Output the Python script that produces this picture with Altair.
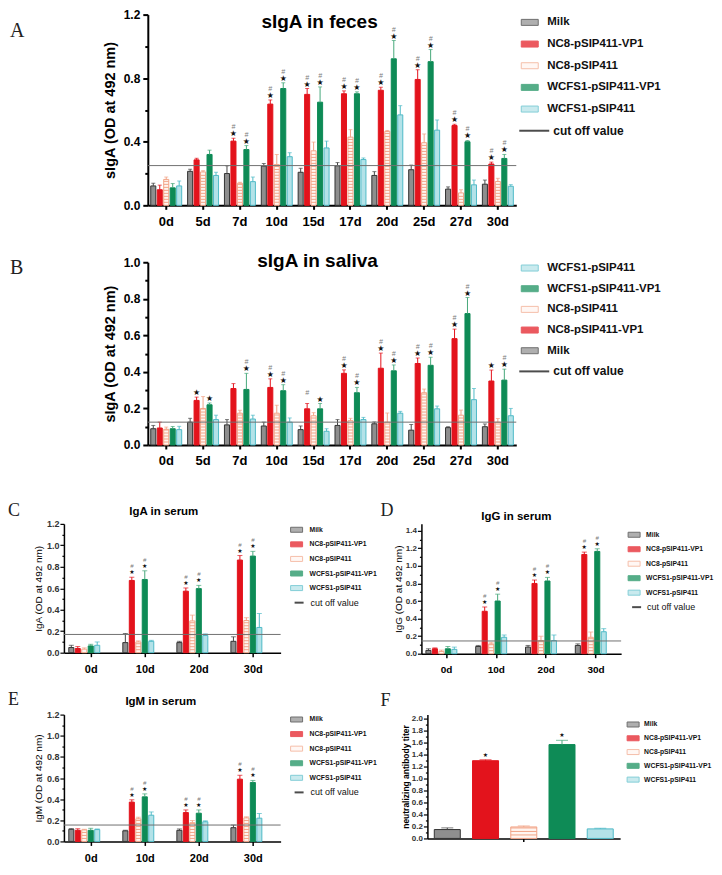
import altair as alt
import numpy as np
import pandas as pd

SERIES = ["Milk", "NC8-pSIP411-VP1", "NC8-pSIP411", "WCFS1-pSIP411-VP1", "WCFS1-pSIP411"]
CUT = "cut off value"
FILL_RANGE = ["#8e8e8e", "#e3131c", "#fff5f0", "#0e8b56", "#b3e2e8"]
STROKE_RANGE = ["#333333", "#e3131c", "#f2a487", "#0e8b56", "#4fbac7"]
ERR_RANGE = ["#444444", "#e3131c", "#f2a487", "#46a87a", "#4fbac7"]
STRIPE = "#f2a487"

# ---------------- Panel A: sIgA in feces ----------------
A_DAYS = ["0d", "5d", "7d", "10d", "15d", "17d", "20d", "25d", "27d", "30d"]
A_MILK = [0.122, 0.214, 0.200, 0.247, 0.208, 0.249, 0.188, 0.224, 0.102, 0.133]
A_MILK_E = [0.017, 0.013, 0.049, 0.016, 0.025, 0.020, 0.024, 0.029, 0.014, 0.026]
A_NC8VP1 = [0.098, 0.286, 0.404, 0.637, 0.698, 0.702, 0.724, 0.792, 0.502, 0.260]
A_NC8VP1_E = [0.029, 0.010, 0.018, 0.026, 0.037, 0.018, 0.019, 0.061, 0.008, 0.012]
A_NC8 = [0.163, 0.210, 0.139, 0.257, 0.343, 0.429, 0.465, 0.394, 0.078, 0.150]
A_NC8_E = [0.015, 0.008, 0.006, 0.063, 0.055, 0.047, 0.006, 0.055, 0.020, 0.020]
A_WCVP1 = [0.110, 0.320, 0.351, 0.735, 0.649, 0.702, 0.922, 0.904, 0.400, 0.295]
A_WCVP1_E = [0.027, 0.027, 0.025, 0.036, 0.096, 0.012, 0.115, 0.076, 0.008, 0.025]
A_WC = [0.122, 0.188, 0.149, 0.306, 0.361, 0.288, 0.569, 0.473, 0.129, 0.120]
A_WC_E = [0.031, 0.020, 0.029, 0.025, 0.043, 0.010, 0.058, 0.064, 0.030, 0.010]
A_SIG = ["", "", "#*", "#*", "#*", "#*", "#*", "#*", "#*", "#*"]
A_CUTOFF = 0.25

# ---------------- Panel B: sIgA in saliva ----------------
B_DAYS = A_DAYS
B_ORDER = ["WCFS1-pSIP411", "WCFS1-pSIP411-VP1", "NC8-pSIP411", "NC8-pSIP411-VP1", "Milk"]
B_WC = [0.084, 0.139, 0.142, 0.125, 0.075, 0.139, 0.174, 0.198, 0.248, 0.160]
B_WC_E = [0.018, 0.024, 0.021, 0.023, 0.014, 0.012, 0.010, 0.015, 0.061, 0.040]
B_WCVP1 = [0.089, 0.220, 0.304, 0.297, 0.198, 0.286, 0.406, 0.436, 0.719, 0.355]
B_WCVP1_E = [0.012, 0.010, 0.088, 0.033, 0.029, 0.029, 0.032, 0.044, 0.088, 0.060]
B_NC8 = [0.086, 0.200, 0.174, 0.174, 0.160, 0.133, 0.125, 0.286, 0.163, 0.125]
B_NC8_E = [0.012, 0.065, 0.016, 0.044, 0.017, 0.013, 0.050, 0.020, 0.028, 0.020]
B_NC8VP1 = [0.093, 0.244, 0.309, 0.315, 0.198, 0.392, 0.420, 0.446, 0.582, 0.350]
B_NC8VP1_E = [0.032, 0.018, 0.027, 0.047, 0.029, 0.019, 0.083, 0.030, 0.052, 0.060]
B_MILK = [0.089, 0.125, 0.110, 0.104, 0.084, 0.107, 0.116, 0.081, 0.095, 0.100]
B_MILK_E = [0.018, 0.021, 0.029, 0.021, 0.020, 0.032, 0.010, 0.031, 0.005, 0.015]
B_SIG_WCVP1 = ["", "*", "#*", "#*", "*", "#*", "#*", "#*", "#*", "#*"]
B_SIG_NC8VP1 = ["", "*", "", "#*", "#", "#*", "#*", "#*", "#*", "*"]
B_CUTOFF = 0.125

# ---------------- Panels C, D, E: serum ----------------
S_DAYS = ["0d", "10d", "20d", "30d"]
C_MILK = [0.048, 0.094, 0.094, 0.106]
C_MILK_E = [0.021, 0.085, 0.012, 0.042]
C_NC8VP1 = [0.039, 0.673, 0.573, 0.863]
C_NC8VP1_E = [0.018, 0.030, 0.030, 0.042]
C_NC8 = [0.033, 0.100, 0.296, 0.300]
C_NC8_E = [0.012, 0.010, 0.054, 0.026]
C_WCVP1 = [0.063, 0.682, 0.597, 0.900]
C_WCVP1_E = [0.015, 0.081, 0.030, 0.044]
C_WC = [0.069, 0.106, 0.160, 0.235]
C_WC_E = [0.031, 0.009, 0.015, 0.130]
C_CUTOFF = 0.17

D_MILK = [0.037, 0.082, 0.075, 0.094]
D_MILK_E = [0.019, 0.012, 0.019, 0.018]
D_NC8VP1 = [0.056, 0.483, 0.800, 1.130]
D_NC8VP1_E = [0.010, 0.049, 0.039, 0.027]
D_NC8 = [0.026, 0.112, 0.150, 0.187]
D_NC8_E = [0.015, 0.019, 0.049, 0.060]
D_WCVP1 = [0.056, 0.600, 0.828, 1.165]
D_WCVP1_E = [0.026, 0.078, 0.041, 0.030]
D_WC = [0.049, 0.187, 0.150, 0.250]
D_WC_E = [0.026, 0.026, 0.063, 0.035]
D_CUTOFF = 0.145

E_MILK = [0.115, 0.100, 0.105, 0.130]
E_MILK_E = [0.006, 0.006, 0.013, 0.025]
E_NC8VP1 = [0.105, 0.372, 0.273, 0.589]
E_NC8VP1_E = [0.015, 0.022, 0.025, 0.037]
E_NC8 = [0.109, 0.214, 0.177, 0.223]
E_NC8_E = [0.006, 0.015, 0.021, 0.010]
E_WCVP1 = [0.105, 0.422, 0.267, 0.558]
E_WCVP1_E = [0.019, 0.028, 0.031, 0.019]
E_WC = [0.112, 0.248, 0.186, 0.220]
E_WC_E = [0.006, 0.031, 0.009, 0.044]
E_CUTOFF = 0.155
S_SIG = ["", "#*", "#*", "#*"]

# ---------------- Panel F: neutralizing antibody ----------------
F_DAYS = ["all"]
F_VALUES = [0.148, 1.297, 0.192, 1.566, 0.159]
F_ERRORS = [0.028, 0.016, 0.017, 0.071, 0.011]
F_SIG = ["", "*", "", "*", ""]


def build_panel(days, order, means, errs, sig, cutoff, width, height, ymax, ytop,
                tick_step, label_every, ytitle, title, title_xy, letter, letter_xy, st, flat=False):
    rows = []
    for s in order:
        for i, d in enumerate(days):
            m = means[s][i]
            e = errs[s][i]
            mk = sig.get(s, [""] * len(days))[i]
            rows.append(dict(day=d, series=s, value=m, upper=m + e,
                             star="\u2605" if "*" in mk else "",
                             hash="#" if "#" in mk else ""))
    df = pd.DataFrame(rows)
    ppu = height / ymax
    step = st["stripe_px"] / ppu
    th = 1.0 / ppu
    srows = []
    for r in rows:
        if r["series"] == "NC8-pSIP411":
            for yv in np.arange(step, r["value"] - 0.6 * th, step):
                srows.append(dict(day=r["day"], series=r["series"], lo=yv - th / 2, hi=yv + th / 2))
    sdf = pd.DataFrame(srows)

    nt = int(round(ytop / tick_step))
    ticks = [round(k * tick_step, 4) for k in range(nt + 1)]
    test = f"round(datum.value / {tick_step}) % {label_every} == 0"
    yaxis = alt.Axis(
        values=ticks,
        labelExpr=f"{test} ? format(datum.value, '.1f') : ''",
        tickSize={"condition": {"test": test, "value": st["ytick_major"]}, "value": st["ytick_minor"]},
        tickWidth=st["ytickw"], tickColor="black", domainColor="black", domainWidth=st["domw"],
        labelFontSize=st["ylab_fs"], labelFontWeight="bold", labelColor=st["ylab_color"],
        labelPadding=st["ylab_pad"], titleFontSize=st["ytitle_fs"],
        titleFontWeight=st["ytitle_weight"], titlePadding=st["ytitle_pad"], titleColor="black",
        grid=False,
    )
    xaxis_kw = dict(
        title=None, labelAngle=0, labelFontSize=st["xlab_fs"], labelFontWeight="bold",
        labelColor="black", tickSize=st["xtick"], tickWidth=st["xtickw"], tickColor="black",
        domainColor="black", domainWidth=st["domw"], labelPadding=st["xlab_pad"], grid=False,
    )
    if flat:
        xaxis = alt.Axis(values=[order[len(order) // 2]], labels=False, **xaxis_kw)
        X = alt.X("series:N", sort=order, title=None, axis=xaxis,
                  scale=alt.Scale(domain=order, paddingInner=st["opi"], paddingOuter=st["opo"]))
        pos = dict(x=X)
    else:
        xaxis = alt.Axis(**xaxis_kw)
        X = alt.X("day:N", sort=days, title=None, axis=xaxis,
                  scale=alt.Scale(domain=days, paddingInner=st["pi"], paddingOuter=st["po"]))
        XO = alt.XOffset("series:N", sort=order,
                         scale=alt.Scale(domain=order, paddingInner=st["opi"], paddingOuter=0))
        pos = dict(x=X, xOffset=XO)
    ys = alt.Scale(domain=[0, ymax], nice=False, zero=True)

    def Y(f):
        return alt.Y(f, scale=ys, axis=yaxis, title=ytitle, stack=None)

    FS = alt.Scale(domain=SERIES, range=FILL_RANGE)
    SS = alt.Scale(domain=SERIES, range=STROKE_RANGE)
    ES = alt.Scale(domain=SERIES, range=ERR_RANGE)

    layers = [
        alt.Chart(df).mark_bar(strokeWidth=st["bar_sw"]).encode(
            y=Y("value:Q"),
            fill=alt.Fill("series:N", scale=FS, legend=None),
            stroke=alt.Stroke("series:N", scale=SS, legend=None), **pos),
    ]
    if len(sdf):
        layers.append(alt.Chart(sdf).mark_bar(color=STRIPE).encode(
            y=Y("lo:Q"), y2="hi:Q", **pos))
    layers += [
        alt.Chart(df).mark_rule(strokeWidth=st["err_w"]).encode(
            y=Y("value:Q"), y2="upper:Q",
            color=alt.Color("series:N", scale=ES, legend=None), **pos),
        alt.Chart(df).mark_tick(thickness=st["err_w"], size=st["cap"], orient="horizontal").encode(
            y=Y("upper:Q"), color=alt.Color("series:N", scale=ES, legend=None), **pos),
    ]
    if cutoff is not None:
        layers.append(alt.Chart(pd.DataFrame({"cut": [cutoff]})).mark_rule(
            color="#707070", strokeWidth=1).encode(y=Y("cut:Q")))
    sdf2 = df[df["star"] != ""]
    if len(sdf2):
        layers.append(alt.Chart(sdf2).mark_text(
            font="DejaVu Sans", fontSize=st["star_fs"], dy=st["star_dy"], color="#111111",
            baseline="middle").encode(y=Y("upper:Q"), text="star:N", **pos))
    hdf = df[df["hash"] != ""]
    if len(hdf):
        layers.append(alt.Chart(hdf).mark_text(
            fontSize=st["hash_fs"], dy=st["hash_dy"], color="#7a7a7a", fontStyle="italic",
            baseline="middle").encode(y=Y("upper:Q"), text="hash:N", **pos))
    if title:
        layers.append(alt.Chart(pd.DataFrame({"t": [title]})).mark_text(
            fontSize=st["title_fs"], fontWeight="bold", align="center", baseline="middle",
            color="black").encode(text="t:N", x=alt.value(title_xy[0]), y=alt.value(title_xy[1])))
    if letter:
        layers.append(letter_mark(letter, letter_xy, st["letter_fs"]))
    return alt.layer(*layers).properties(width=width, height=height)


def letter_mark(letter, xy, fs):
    return alt.Chart(pd.DataFrame({"t": [letter]})).mark_text(
        font="Liberation Serif", fontSize=fs, align="left", baseline="middle",
        color="#222222").encode(text="t:N", x=alt.value(xy[0]), y=alt.value(xy[1]))


def letter_cell(letter, xy, fs, width):
    return letter_mark(letter, xy, fs).properties(width=width, height=10)


def build_legend(labels, first, step, width, height, sw, sh, sx, tx, fs,
                 cut_x0=0, cut_w=10, cut_tx=20, cut_fs=9, cut_weight="normal"):
    df = pd.DataFrame({"label": labels, "idx": list(range(len(labels)))})
    d0 = -first / step
    d1 = d0 + height / step
    Yl = alt.Y("idx:Q", axis=None,
               scale=alt.Scale(domain=[d0, d1], reverse=True, nice=False, zero=False))
    ser = df[df["label"] != CUT]
    cut = df[df["label"] == CUT]
    FS = alt.Scale(domain=SERIES, range=FILL_RANGE)
    SS = alt.Scale(domain=SERIES, range=STROKE_RANGE)
    layers = [
        alt.Chart(ser).mark_tick(orient="horizontal", size=sw, thickness=sh, strokeWidth=1).encode(
            x=alt.value(sx + sw / 2), y=Yl,
            fill=alt.Fill("label:N", scale=FS, legend=None),
            stroke=alt.Stroke("label:N", scale=SS, legend=None)),
        alt.Chart(ser).mark_text(align="left", baseline="middle", fontSize=fs,
                                 fontWeight="bold", color="#111111").encode(
            x=alt.value(tx), y=Yl, text="label:N"),
    ]
    if len(cut):
        layers += [
            alt.Chart(cut).mark_tick(orient="horizontal", size=cut_w, thickness=2,
                                     color="black").encode(x=alt.value(cut_x0 + cut_w / 2), y=Yl),
            alt.Chart(cut).mark_text(align="left", baseline="middle", fontSize=cut_fs,
                                     fontWeight=cut_weight, color="#111111").encode(
                x=alt.value(cut_tx), y=Yl, text="label:N"),
        ]
    return alt.layer(*layers).properties(width=width, height=height)


ST_AB = dict(stripe_px=3, ytick_major=5, ytick_minor=3, ytickw=2, domw=2, xtick=4, xtickw=2,
             xlab_fs=13, xlab_pad=6, ylab_fs=12, ylab_color="black", ylab_pad=3,
             ytitle_fs=14.5, ytitle_weight="bold", ytitle_pad=6, bar_sw=1, err_w=1, cap=4,
             star_fs=8, star_dy=-4, hash_fs=7, hash_dy=-11, title_fs=19, letter_fs=20,
             pi=0.16, po=0.08, opi=0.22)
ST_S = dict(stripe_px=3, ytick_major=4, ytick_minor=2, ytickw=1.2, domw=1.5, xtick=4, xtickw=1.5,
            xlab_fs=11, xlab_pad=7, ylab_fs=9, ylab_color="#333333", ylab_pad=1,
            ytitle_fs=10, ytitle_weight="normal", ytitle_pad=3, bar_sw=1, err_w=1, cap=5,
            star_fs=6, star_dy=-5, hash_fs=6, hash_dy=-11, title_fs=11.5, letter_fs=18,
            pi=0.17, po=0.09, opi=0.38)
ST_D = dict(ST_S, xlab_fs=10, ylab_fs=8, ytitle_pad=2)
ST_F = dict(ST_S, ylab_fs=8, ytitle_fs=8.5, ytitle_weight="bold", ytitle_pad=1,
            xtick=3, cap=12, star_fs=6, star_dy=-5, opi=0.32, opo=0.18, stripe_px=3.5)

A_MEANS = {"Milk": A_MILK, "NC8-pSIP411-VP1": A_NC8VP1, "NC8-pSIP411": A_NC8,
           "WCFS1-pSIP411-VP1": A_WCVP1, "WCFS1-pSIP411": A_WC}
A_ERRS = {"Milk": A_MILK_E, "NC8-pSIP411-VP1": A_NC8VP1_E, "NC8-pSIP411": A_NC8_E,
          "WCFS1-pSIP411-VP1": A_WCVP1_E, "WCFS1-pSIP411": A_WC_E}
panelA = build_panel(A_DAYS, SERIES, A_MEANS, A_ERRS,
                     {"NC8-pSIP411-VP1": A_SIG, "WCFS1-pSIP411-VP1": A_SIG}, A_CUTOFF,
                     369, 191, 1.2, 1.2, 0.2, 2, "sIgA (OD at 492 nm)", "sIgA in feces", (172, 7.8),
                     None, None, ST_AB)
legA = build_legend(SERIES + [CUT], 7.8, 21.7, 30, 130, 17, 6, 2, 28, 11.5,
                    cut_x0=0, cut_w=30, cut_tx=34, cut_fs=12, cut_weight="bold")

B_MEANS = {"Milk": B_MILK, "NC8-pSIP411-VP1": B_NC8VP1, "NC8-pSIP411": B_NC8,
           "WCFS1-pSIP411-VP1": B_WCVP1, "WCFS1-pSIP411": B_WC}
B_ERRS = {"Milk": B_MILK_E, "NC8-pSIP411-VP1": B_NC8VP1_E, "NC8-pSIP411": B_NC8_E,
          "WCFS1-pSIP411-VP1": B_WCVP1_E, "WCFS1-pSIP411": B_WC_E}
panelB = build_panel(B_DAYS, B_ORDER, B_MEANS, B_ERRS,
                     {"NC8-pSIP411-VP1": B_SIG_NC8VP1, "WCFS1-pSIP411-VP1": B_SIG_WCVP1}, B_CUTOFF,
                     369, 183, 1.0, 1.0, 0.1, 2, "sIgA (OD at 492 nm)", "sIgA in saliva", (170, -1),
                     None, None, ST_AB)
legB = build_legend(B_ORDER + [CUT], 5.8, 20.7, 30, 120, 17, 6, 2, 28, 11.5,
                    cut_x0=0, cut_w=30, cut_tx=34, cut_fs=12, cut_weight="bold")

SER_SIG = {"NC8-pSIP411-VP1": S_SIG, "WCFS1-pSIP411-VP1": S_SIG}
C_MEANS = {"Milk": C_MILK, "NC8-pSIP411-VP1": C_NC8VP1, "NC8-pSIP411": C_NC8,
           "WCFS1-pSIP411-VP1": C_WCVP1, "WCFS1-pSIP411": C_WC}
C_ERRS = {"Milk": C_MILK_E, "NC8-pSIP411-VP1": C_NC8VP1_E, "NC8-pSIP411": C_NC8_E,
          "WCFS1-pSIP411-VP1": C_WCVP1_E, "WCFS1-pSIP411": C_WC_E}
panelC = build_panel(S_DAYS, SERIES, C_MEANS, C_ERRS, SER_SIG, C_CUTOFF,
                     217, 129, 1.2, 1.2, 0.1, 2, "IgA (OD at 492 nm)", "IgA in serum", (100, -11.5),
                     None, None, ST_S)
legC = build_legend(SERIES + [CUT], 5.9, 14.6, 90, 100, 12, 5, 0, 19, 6.8,
                    cut_x0=4, cut_w=9, cut_tx=20, cut_fs=9)

D_MEANS = {"Milk": D_MILK, "NC8-pSIP411-VP1": D_NC8VP1, "NC8-pSIP411": D_NC8,
           "WCFS1-pSIP411-VP1": D_WCVP1, "WCFS1-pSIP411": D_WC}
D_ERRS = {"Milk": D_MILK_E, "NC8-pSIP411-VP1": D_NC8VP1_E, "NC8-pSIP411": D_NC8_E,
          "WCFS1-pSIP411-VP1": D_WCVP1_E, "WCFS1-pSIP411": D_WC_E}
panelD = build_panel(S_DAYS, SERIES, D_MEANS, D_ERRS, SER_SIG, D_CUTOFF,
                     200, 130, 1.4786, 1.4, 0.1, 2, "IgG (OD at 492 nm)", "IgG in serum", (95, -7),
                     "D", (-41, -12.5), ST_D)
legD = build_legend(SERIES + [CUT], 10.9, 14.5, 70, 100, 12, 5, 0, 18, 6.8,
                    cut_x0=4, cut_w=9, cut_tx=19, cut_fs=9)

E_MEANS = {"Milk": E_MILK, "NC8-pSIP411-VP1": E_NC8VP1, "NC8-pSIP411": E_NC8,
           "WCFS1-pSIP411-VP1": E_WCVP1, "WCFS1-pSIP411": E_WC}
E_ERRS = {"Milk": E_MILK_E, "NC8-pSIP411-VP1": E_NC8VP1_E, "NC8-pSIP411": E_NC8_E,
          "WCFS1-pSIP411-VP1": E_WCVP1_E, "WCFS1-pSIP411": E_WC_E}
panelE = build_panel(S_DAYS, SERIES, E_MEANS, E_ERRS, SER_SIG, E_CUTOFF,
                     217, 127, 1.2, 1.2, 0.1, 2, "IgM (OD at 492 nm)", "IgM in serum", (97, -12.5),
                     None, None, ST_S)
legE = build_legend(SERIES + [CUT], 4.9, 14.6, 90, 100, 12, 5, 0, 19, 6.8,
                    cut_x0=4, cut_w=9, cut_tx=20, cut_fs=9)

F_MEANS = {s: [v] for s, v in zip(SERIES, F_VALUES)}
F_ERRS = {s: [v] for s, v in zip(SERIES, F_ERRORS)}
F_SIGS = {s: [v] for s, v in zip(SERIES, F_SIG)}
panelF = build_panel(F_DAYS, SERIES, F_MEANS, F_ERRS, F_SIGS, None,
                     193, 124, 2.066, 2.0, 0.1, 2, "neutralizing antibody titer", None, (0, 0),
                     "F", (-47, -14), ST_F, flat=True)
legF = build_legend(SERIES, 9.9, 13.8, 70, 80, 12, 5, 0, 17, 6.8)

rowA = alt.hconcat(letter_cell("A", (2, 16.5), 20, 92), panelA, legA, spacing=2)
rowB = alt.hconcat(letter_cell("B", (2, 5.5), 20, 92), panelB, legB, spacing=2)
rowCD = alt.hconcat(
    alt.hconcat(letter_cell("C", (0, -12.5), 18, 17), panelC, legC, spacing=8),
    alt.hconcat(panelD, legD, spacing=5), spacing=0)
rowEF = alt.hconcat(
    alt.hconcat(letter_cell("E", (0, -14.5), 18, 17), panelE, legE, spacing=8),
    alt.hconcat(panelF, legF, spacing=6), spacing=0)

top2 = alt.vconcat(rowA, rowB, spacing=24)
top3 = alt.vconcat(top2, rowCD, spacing=34)
chart = alt.vconcat(top3, rowEF, spacing=16).properties(
    padding={"left": 0, "top": 0, "right": 0, "bottom": 0}, background="white"
).configure_view(stroke=None).configure_axis(
    labelFont="Liberation Sans", titleFont="Liberation Sans"
).configure_text(font="Liberation Sans")

chart.save("out.html", embed_options={"renderer": "svg", "actions": False})
